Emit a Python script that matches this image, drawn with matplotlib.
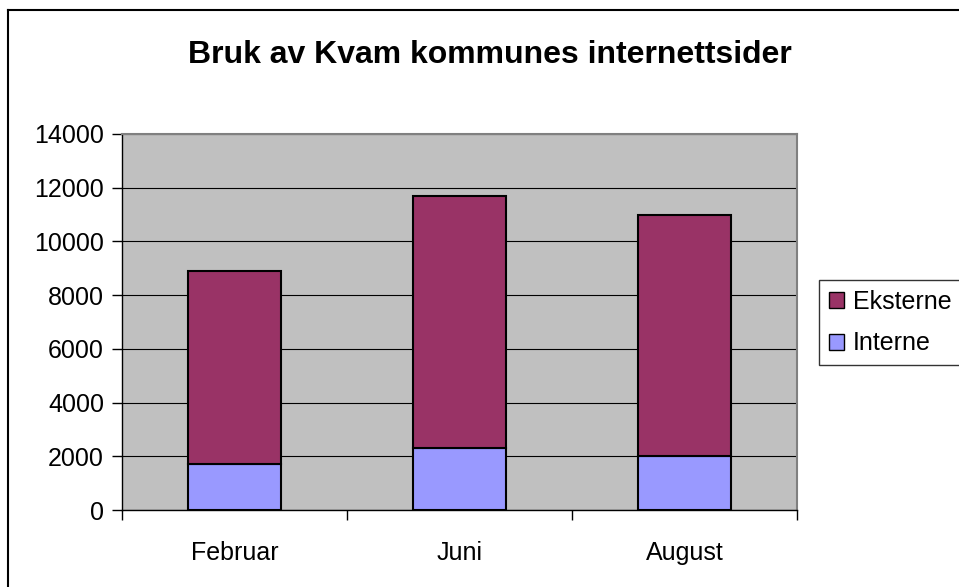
import matplotlib.pyplot as plt
from matplotlib.patches import Patch
from matplotlib.lines import Line2D

# Data
months = ['Februar', 'Juni', 'August']
interne = [1700, 2300, 2000]
eksterne = [7200, 9400, 9000]
yticks = [0, 2000, 4000, 6000, 8000, 10000, 12000, 14000]

col_ekst = '#993366'
col_int = '#9999FF'

plt.rcParams['font.family'] = ['Liberation Sans', 'DejaVu Sans']

W, H = 959, 587
fig = plt.figure(figsize=(W / 100, H / 100), dpi=100)

# Axes placed to match the plot area
ax = fig.add_axes([122 / W, 1 - 510 / H, (797 - 122) / W, (510 - 134) / H])
ax.set_facecolor('#C0C0C0')

x = list(range(len(months)))
ax.bar(x, interne, width=0.41, color=col_int, edgecolor='black', linewidth=1.5, zorder=3)
ax.bar(x, eksterne, width=0.41, bottom=interne, color=col_ekst, edgecolor='black',
       linewidth=1.5, zorder=3)

ax.set_xlim(-0.5, len(months) - 0.5)
ax.set_ylim(0, 14000)
ax.set_yticks(yticks)
ax.set_yticklabels([str(v) for v in yticks], fontsize=18)
ax.yaxis.grid(True, color='black', linewidth=0.8, zorder=1)

ax.set_xticks(x)
ax.set_xticklabels(months, fontsize=18)
ax.tick_params(axis='x', which='major', length=0, pad=22)
ax.set_xticks([i - 0.5 for i in range(len(months) + 1)], minor=True)
ax.tick_params(axis='x', which='minor', length=7, width=1, color='black')
ax.tick_params(axis='y', length=7, width=1, color='black', pad=6)

for side in ['top', 'right']:
    ax.spines[side].set_color('#808080')
    ax.spines[side].set_linewidth(1.5)
for side in ['left', 'bottom']:
    ax.spines[side].set_color('black')
    ax.spines[side].set_linewidth(1)

fig.text((190 + 790) / 2 / W, 1 - 55 / H, 'Bruk av Kvam kommunes internettsider',
         ha='center', va='center', fontsize=23, fontweight='bold')

handles = [Patch(facecolor=col_ekst, edgecolor='black', label='Eksterne'),
           Patch(facecolor=col_int, edgecolor='black', label='Interne')]
leg = fig.legend(handles=handles, loc='upper left', bbox_to_anchor=(819 / W, 1 - 280 / H),
                 fontsize=18, frameon=True, fancybox=False, handlelength=0.6,
                 handleheight=0.6, handletextpad=0.35, borderpad=0.4,
                 labelspacing=0.7, borderaxespad=0)
leg.get_frame().set_edgecolor('black')
leg.get_frame().set_linewidth(1)

# Outer chart frame (only left and top are visible)
fig.add_artist(Line2D([8 / W, 8 / W], [0, 1 - 10 / H], color='black', linewidth=1.5))
fig.add_artist(Line2D([8 / W, 1], [1 - 10 / H, 1 - 10 / H], color='black', linewidth=1.5))

fig.savefig('out.png', dpi=100)
